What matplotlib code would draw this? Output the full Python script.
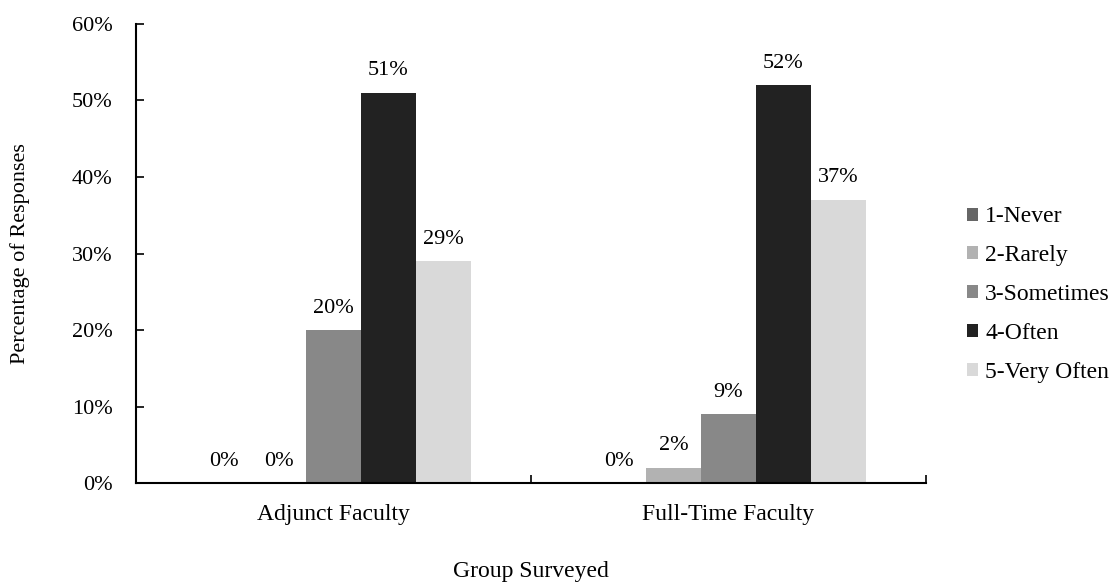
import numpy as np
import matplotlib.pyplot as plt
from matplotlib.ticker import PercentFormatter, FixedLocator

groups = ['Adjunct Faculty', 'Full-Time Faculty']
ratings = ['1-Never', '2-Rarely', '3-Sometimes', '4-Often', '5-Very Often']
never = [0, 0]
rarely = [0, 2]
sometimes = [20, 9]
often = [51, 52]
very_often = [29, 37]
colors = ['#666666', '#b2b2b2', '#888888', '#222222', '#d9d9d9']

plt.rcParams['font.family'] = ['Liberation Serif', 'DejaVu Serif']
plt.rcParams['font.size'] = 16

fig = plt.figure(figsize=(11.15, 5.82), dpi=100)
ax = fig.add_axes([0.122, 0.170, 0.7085, 0.7888])

x = np.arange(len(groups))
width = 0.139
series = [never, rarely, sometimes, often, very_often]
for i, (name, vals, c) in enumerate(zip(ratings, series, colors)):
    pos = x + (i - 2) * width
    ax.bar(pos, vals, width, color=c, label=name, linewidth=0)
    for px, v in zip(pos, vals):
        ax.annotate(f'{v}%', (px, v), xytext=(0, 9), textcoords='offset points',
                    ha='center', va='bottom')

ax.set_xlim(-0.5, 1.5)
ax.set_ylim(0, 60)
ax.set_yticks(np.arange(0, 61, 10))
ax.yaxis.set_major_formatter(PercentFormatter(decimals=0))
ax.set_xticks(x)
ax.set_xticklabels(groups, fontsize=17)
ax.xaxis.set_minor_locator(FixedLocator([-0.5, 0.5, 1.5]))
ax.tick_params(axis='x', which='major', length=0, pad=15)
ax.tick_params(axis='x', which='minor', direction='in', length=6, width=1.2)
ax.tick_params(axis='y', direction='in', length=6, width=1.2, pad=17)

for s in ['top', 'right']:
    ax.spines[s].set_visible(False)
for s in ['left', 'bottom']:
    ax.spines[s].set_linewidth(1.5)

ax.set_xlabel('Group Surveyed', labelpad=26, fontsize=17)
ax.set_ylabel('Percentage of Responses', labelpad=30)

ax.legend(loc='center left', bbox_to_anchor=(1.04, 0.41), frameon=False,
          handlelength=0.47, handleheight=0.47, handletextpad=0.3,
          labelspacing=0.76, borderaxespad=0, fontsize=17)

fig.savefig('out.png', dpi=100)
